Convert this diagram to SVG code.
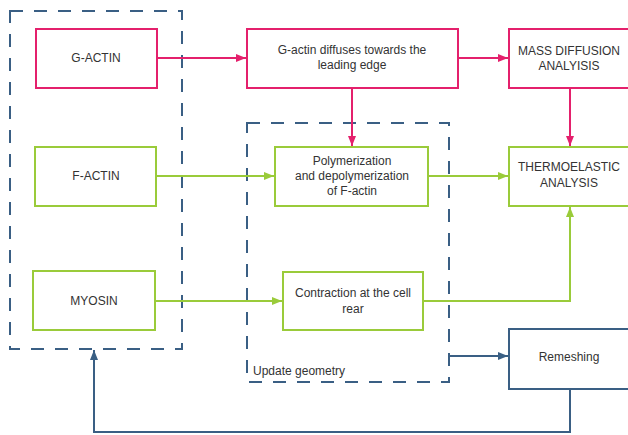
<svg xmlns="http://www.w3.org/2000/svg" width="628" height="435" viewBox="0 0 628 435">
<style>
text{font-family:"Liberation Sans",Arial,sans-serif;font-size:12px;fill:#333;text-anchor:middle}
.pk{fill:#fff;stroke:#e4206c;stroke-width:2}
.gr{fill:#fff;stroke:#9acb3a;stroke-width:2}
.bl{fill:#fff;stroke:#3a5f84;stroke-width:2}
.dash{fill:none;stroke:#3a5f84;stroke-width:2;stroke-dasharray:13 11}
.cp{fill:none;stroke:#e4206c;stroke-width:2}
.cg{fill:none;stroke:#9acb3a;stroke-width:2}
.cb{fill:none;stroke:#3a5f84;stroke-width:2}
</style>
<defs>
<marker id="ap" markerWidth="10" markerHeight="8" refX="10" refY="4" orient="auto" markerUnits="userSpaceOnUse"><path d="M0,0L10,4L0,8z" fill="#e4206c"/></marker>
<marker id="ag" markerWidth="10" markerHeight="8" refX="10" refY="4" orient="auto" markerUnits="userSpaceOnUse"><path d="M0,0L10,4L0,8z" fill="#9acb3a"/></marker>
<marker id="ab" markerWidth="10" markerHeight="8" refX="10" refY="4" orient="auto" markerUnits="userSpaceOnUse"><path d="M0,0L10,4L0,8z" fill="#3a5f84"/></marker>
</defs>
<g id="group-inputs"><rect class="dash" x="10" y="11" width="172" height="338"/></g>
<g id="group-update"><rect class="dash" x="247" y="123" width="202" height="259"/><text x="253" y="375" style="text-anchor:start">Update geometry</text></g>
<g id="connectors">
<path class="cp" d="M157,58H246" marker-end="url(#ap)"/>
<path class="cp" d="M458,58H508" marker-end="url(#ap)"/>
<path class="cp" d="M352,88V146" marker-end="url(#ap)"/>
<path class="cp" d="M570,88V146" marker-end="url(#ap)"/>
<path class="cg" d="M156,176H274" marker-end="url(#ag)"/>
<path class="cg" d="M428,176H508" marker-end="url(#ag)"/>
<path class="cg" d="M155,301H282" marker-end="url(#ag)"/>
<path class="cg" d="M423,301H570V207" marker-end="url(#ag)"/>
<path class="cb" d="M449,356H508" marker-end="url(#ab)"/>
<path class="cb" d="M570,389V432H94V350" marker-end="url(#ab)"/>
</g>
<g id="g-actin"><rect class="pk" x="36" y="29" width="121" height="59"/><text x="96" y="62">G-ACTIN</text></g>
<g id="f-actin"><rect class="gr" x="35" y="147" width="121" height="59"/><text x="96" y="180">F-ACTIN</text></g>
<g id="myosin"><rect class="gr" x="33" y="271" width="122" height="59"/><text x="94" y="305">MYOSIN</text></g>
<g id="diffuses"><rect class="pk" x="247" y="29" width="211" height="59"/><text x="352" y="54">G-actin diffuses towards the</text><text x="352" y="69">leading edge</text></g>
<g id="mass"><rect class="pk" x="509" y="29" width="140" height="59"/><text x="569" y="55">MASS DIFFUSION</text><text x="569" y="70">ANALYISIS</text></g>
<g id="poly"><rect class="gr" x="275" y="147" width="153" height="59"/><text x="352" y="165">Polymerization</text><text x="352" y="180">and depolymerization</text><text x="352" y="195">of F-actin</text></g>
<g id="thermo"><rect class="gr" x="509" y="147" width="140" height="59"/><text x="569" y="171">THERMOELASTIC</text><text x="569" y="187">ANALYSIS</text></g>
<g id="contraction"><rect class="gr" x="283" y="272" width="140" height="58"/><text x="353" y="297">Contraction at the cell</text><text x="353" y="313">rear</text></g>
<g id="remeshing"><rect class="bl" x="509" y="329" width="140" height="60"/><text x="569" y="361">Remeshing</text></g>
</svg>
